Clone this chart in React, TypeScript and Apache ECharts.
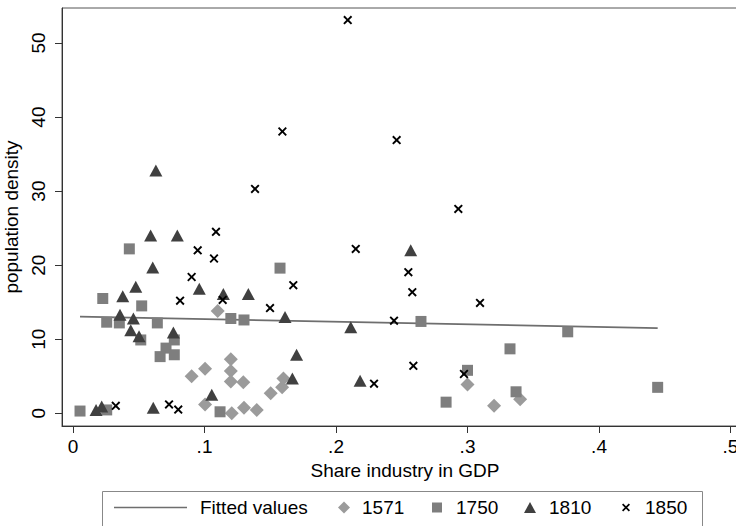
import React, { useEffect, useRef } from "react";
import * as echarts from "echarts";

// ---- data ----
const x1571 = [0.110, 0.120, 0.120, 0.1004, 0.0902, 0.120, 0.1295, 0.1004, 0.1207, 0.130, 0.1397, 0.1503, 0.159, 0.160, 0.300, 0.340, 0.3202];
const y1571 = [13.8, 7.3, 5.7, 6.0, 5.0, 4.3, 4.2, 1.2, 0.0, 0.75, 0.45, 2.7, 3.5, 4.7, 3.9, 1.9, 1.0];

const x1750 = [0.0053, 0.0256, 0.0226, 0.0428, 0.0522, 0.0256, 0.0352, 0.0641, 0.0515, 0.077, 0.0707, 0.0662, 0.077, 0.120, 0.130, 0.1574, 0.1118, 0.2646, 0.3762, 0.3323, 0.300, 0.3369, 0.2837, 0.4446];
const y1750 = [0.3, 0.45, 15.5, 22.2, 14.5, 12.3, 12.2, 12.2, 9.9, 9.9, 8.8, 7.65, 7.9, 12.8, 12.6, 19.6, 0.2, 12.4, 11.0, 8.7, 5.8, 2.9, 1.5, 3.5];

const x1810 = [0.063, 0.059, 0.0793, 0.0606, 0.0477, 0.096, 0.0378, 0.1143, 0.1333, 0.0357, 0.0459, 0.1612, 0.0439, 0.0763, 0.0502, 0.2112, 0.2568, 0.170, 0.1668, 0.2183, 0.1055, 0.0175, 0.0218, 0.061];
const y1810 = [32.8, 24.0, 24.0, 19.7, 17.1, 16.8, 15.8, 16.1, 16.1, 13.3, 12.8, 13.0, 11.2, 10.9, 10.4, 11.6, 22.0, 7.9, 4.7, 4.4, 2.5, 0.45, 0.9, 0.75];

const x1850 = [0.2089, 0.1592, 0.2461, 0.1384, 0.293, 0.1087, 0.0948, 0.215, 0.1072, 0.255, 0.0902, 0.1675, 0.258, 0.0814, 0.1138, 0.3095, 0.1498, 0.2441, 0.2588, 0.2973, 0.2289, 0.0325, 0.073, 0.080];
const y1850 = [53.1, 38.05, 36.9, 30.3, 27.6, 24.5, 22.0, 22.2, 20.9, 19.05, 18.4, 17.3, 16.35, 15.2, 15.3, 14.9, 14.2, 12.5, 6.4, 5.3, 4.0, 1.0, 1.2, 0.5];

const fittedX = [0.0053, 0.4446];
const fittedY = [13.05, 11.5];

const xTicks = [0, 0.1, 0.2, 0.3, 0.4, 0.5];
const yTicks = [0, 10, 20, 30, 40, 50];

const seriesNames = ["Fitted values", "1571", "1750", "1810", "1850"];
const xTitle = "Share industry in GDP";
const yTitle = "population density";

// ---- helpers ----
const pair = (xs: number[], ys: number[]) => xs.map((x, i) => [x, ys[i]]);
const FONT = "'Liberation Sans', Arial, Helvetica, sans-serif";
const CROSS =
  "path://M0,1.5L1.5,0L5,3.5L8.5,0L10,1.5L6.5,5L10,8.5L8.5,10L5,6.5L1.5,10L0,8.5L3.5,5Z";
const fmtX = (v: number) => (v === 0 ? "0" : String(Number(v.toFixed(2))).replace(/^0/, ""));

export default function App() {
  const ref = useRef<HTMLDivElement>(null);

  useEffect(() => {
    document.body.style.margin = "0";
    if (!ref.current) return;
    const chart = echarts.init(ref.current, undefined, { renderer: "svg" });

    const txt = { color: "#000", fontSize: 19, fontFamily: FONT };
    const legendBase = {
      orient: "horizontal",
      padding: 0,
      selectedMode: false,
      itemGap: 0,
      top: 498,
    };

    const option: any = {
      animation: false,
      backgroundColor: "#ffffff",
      textStyle: { fontFamily: FONT },
      grid: {
        left: 62,
        right: -12,
        top: 8,
        bottom: 100,
        show: true,
        borderColor: "#555",
        borderWidth: 1,
        backgroundColor: "transparent",
        containLabel: false,
        outerBoundsMode: "none",
      },
      xAxis: {
        type: "value",
        min: -0.0084,
        max: 0.5133,
        name: xTitle,
        nameLocation: "middle",
        nameGap: 32,
        nameTextStyle: txt,
        axisLine: { show: true, onZero: false, lineStyle: { color: "#333", width: 1 } },
        axisTick: { show: true, inside: false, length: 7, customValues: xTicks, lineStyle: { color: "#333" } },
        axisLabel: { customValues: xTicks, formatter: fmtX, margin: 11, ...txt },
        splitLine: { show: false },
      },
      yAxis: {
        type: "value",
        min: -1.72,
        max: 54.73,
        name: yTitle,
        nameLocation: "middle",
        nameGap: 34,
        nameTextStyle: txt,
        axisLine: { show: true, onZero: false, lineStyle: { color: "#333", width: 1 } },
        axisTick: { show: true, inside: false, length: 7, customValues: yTicks, lineStyle: { color: "#333" } },
        axisLabel: { customValues: yTicks, rotate: 90, margin: 14, ...txt },
        splitLine: { show: false },
      },
      legend: [
        {
          ...legendBase,
          data: [{ name: seriesNames[0], icon: "rect" }],
          left: 114,
          itemWidth: 73,
          itemHeight: 1.6,
          textStyle: { ...txt, padding: [0, 0, 0, 8] },
        },
        {
          ...legendBase,
          data: [seriesNames[1]],
          left: 338,
          itemWidth: 12,
          itemHeight: 12,
          textStyle: { ...txt, padding: [0, 0, 0, 7] },
        },
        {
          ...legendBase,
          data: [seriesNames[2]],
          left: 432,
          itemWidth: 10,
          itemHeight: 10,
          textStyle: { ...txt, padding: [0, 0, 0, 9] },
        },
        {
          ...legendBase,
          data: [seriesNames[3]],
          left: 524,
          itemWidth: 12,
          itemHeight: 11,
          textStyle: { ...txt, padding: [0, 0, 0, 8] },
        },
        {
          ...legendBase,
          data: [seriesNames[4]],
          left: 622,
          itemWidth: 8,
          itemHeight: 8,
          textStyle: { ...txt, padding: [0, 0, 0, 10] },
        },
      ],
      graphic: [
        {
          type: "rect",
          left: 100,
          top: 489,
          shape: { width: 600, height: 35 },
          style: { fill: "none", stroke: "#888", lineWidth: 1 },
          silent: true,
        },
      ],
      series: [
        {
          name: seriesNames[0],
          type: "line",
          data: pair(fittedX, fittedY),
          symbol: "none",
          showSymbol: false,
          lineStyle: { color: "#6e6e6e", width: 1.6 },
          itemStyle: { color: "#6e6e6e" },
          z: 1,
        },
        {
          name: seriesNames[1],
          type: "scatter",
          data: pair(x1571, y1571),
          symbol: "diamond",
          symbolSize: 14,
          itemStyle: { color: "#9b9b9b", opacity: 1 },
          z: 2,
        },
        {
          name: seriesNames[2],
          type: "scatter",
          data: pair(x1750, y1750),
          symbol: "rect",
          symbolSize: 11,
          itemStyle: { color: "#7e7e7e", opacity: 1 },
          z: 3,
        },
        {
          name: seriesNames[3],
          type: "scatter",
          data: pair(x1810, y1810),
          symbol: "triangle",
          symbolSize: [13, 12],
          itemStyle: { color: "#404040", opacity: 1 },
          z: 4,
        },
        {
          name: seriesNames[4],
          type: "scatter",
          data: pair(x1850, y1850),
          symbol: CROSS,
          symbolSize: 9,
          itemStyle: { color: "#000000", opacity: 1 },
          z: 5,
        },
      ],
    };

    chart.setOption(option);
    return () => chart.dispose();
  }, []);

  return <div ref={ref} style={{ width: 736, height: 526 }} />;
}
